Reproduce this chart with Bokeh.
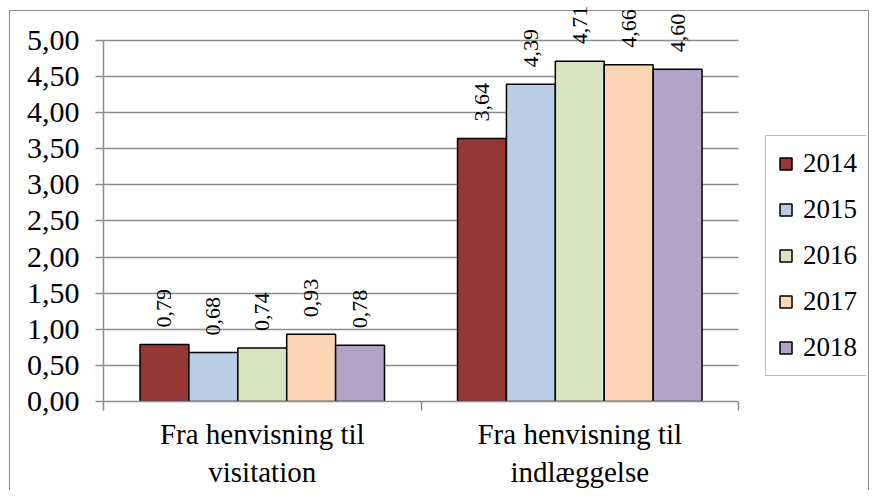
from math import pi
from bokeh.plotting import figure
from bokeh.models import Range1d, FixedTicker, ColumnDataSource, Legend, LegendItem, LabelSet
from bokeh.embed import file_html
from bokeh.resources import INLINE

categories = ["Fra henvisning til\nvisitation", "Fra henvisning til\nindlæggelse"]
years = ["2014", "2015", "2016", "2017", "2018"]
v2014 = [0.79, 3.64]
v2015 = [0.68, 4.39]
v2016 = [0.74, 4.71]
v2017 = [0.93, 4.66]
v2018 = [0.78, 4.60]
series = [v2014, v2015, v2016, v2017, v2018]
colors = ["#953735", "#b9cde5", "#d7e4bd", "#fcd5b5", "#b3a2c7"]
y_ticks = [0.0, 0.5, 1.0, 1.5, 2.0, 2.5, 3.0, 3.5, 4.0, 4.5, 5.0]

SERIF = "Liberation Serif"
SANS = "Liberation Sans"

def fmt(v):
    return f"{v:.2f}".replace(".", ",")

p = figure(width=869, height=490, output_backend="svg", toolbar_location=None,
           x_range=Range1d(0, 2.403), y_range=Range1d(0, 5.551),
           min_border_left=103, min_border_right=3, min_border_top=0, min_border_bottom=87)
line = "linear-gradient(#8c8c8c, #8c8c8c)"
p.styles = {
    "background-color": "white",
    "background-image": ", ".join([line] * 3),
    "background-size": "1px 100%, 860px 1px, 1px 100%",
    "background-position": "9px 10px, 9px 10px, 868px 10px",
    "background-repeat": "no-repeat",
}
p.outline_line_color = None
p.background_fill_alpha = 0
p.border_fill_alpha = 0

bar_w = 0.154
items = []
for j, (yr, vals, col) in enumerate(zip(years, series, colors)):
    xs = [i + 0.5 + (j - 2) * bar_w for i in range(len(categories))]
    src = ColumnDataSource(dict(x=xs, top=vals, label=[fmt(v) for v in vals]))
    r = p.vbar(x="x", top="top", bottom=0, width=bar_w, source=src,
               fill_color=col, line_color="black", line_width=1.5)
    items.append(LegendItem(label=yr, renderers=[r]))
    lbl = LabelSet(x="x", y="top", text="label", source=src, angle=pi / 2,
                   text_align="left", text_baseline="middle", y_offset=17,
                   text_font=SANS, text_font_size="22px", text_color="black")
    p.add_layout(lbl)

# x axis
xa = p.xaxis[0]
xa.bounds = (0, len(categories))
xa.ticker = FixedTicker(ticks=[i + 0.5 for i in range(len(categories))],
                        minor_ticks=list(range(len(categories) + 1)))
xa.major_label_overrides = {i + 0.5: c for i, c in enumerate(categories)}
xa.major_tick_out = 0
xa.major_tick_in = 0
xa.minor_tick_out = 9
xa.minor_tick_in = 0
xa.minor_tick_line_color = "#8c8c8c"
xa.minor_tick_line_width = 1.5
xa.axis_line_color = "#8c8c8c"
xa.axis_line_width = 1.5
xa.major_label_text_font = SERIF
xa.major_label_text_font_size = "29px"
xa.major_label_text_color = "black"
xa.major_label_standoff = 7

ya = p.yaxis[0]
ya.ticker = FixedTicker(ticks=y_ticks)
ya.bounds = (y_ticks[0], y_ticks[-1])
ya.major_label_overrides = {t: fmt(t) for t in y_ticks}
ya.major_tick_out = 8
ya.major_tick_in = 0
ya.minor_tick_out = 0
ya.minor_tick_in = 0
ya.major_tick_line_color = "#8c8c8c"
ya.major_tick_line_width = 1.5
ya.axis_line_color = "#8c8c8c"
ya.axis_line_width = 1.5
ya.major_label_text_font = SERIF
ya.major_label_text_font_size = "30px"
ya.major_label_text_color = "black"
ya.major_label_standoff = 16

p.xgrid.visible = False
p.ygrid.grid_line_color = "#8c8c8c"
p.ygrid.grid_line_width = 1.5
p.ygrid.cross_bounds = (0, len(categories))

legend = Legend(items=items, location=(662, 25))
legend.border_line_color = "#4a7ebb"
legend.border_line_width = 1.5
legend.background_fill_color = "white"
legend.background_fill_alpha = 1
legend.label_text_font = SERIF
legend.label_text_font_size = "27px"
legend.label_text_color = "black"
legend.glyph_width = 15
legend.glyph_height = 15
legend.label_height = 26
legend.label_width = 55
legend.spacing = 15
legend.padding = 12
legend.margin = 0
legend.label_standoff = 10
p.add_layout(legend)

open("out.html", "w").write(file_html(p, INLINE))
